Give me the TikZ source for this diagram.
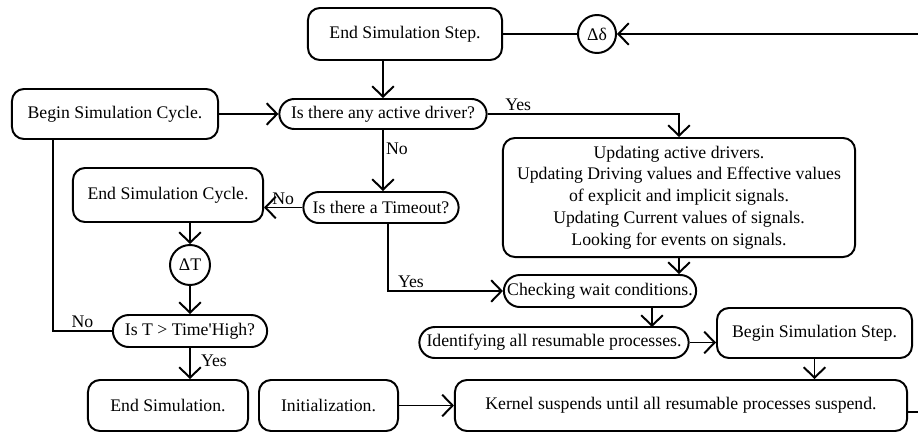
\documentclass[tikz,border=0pt]{standalone}
\usepackage{fontspec}
\setmainfont{Liberation Serif}
\usetikzlibrary{arrows.meta, shapes.misc}

\begin{document}
\begin{tikzpicture}[x=0.025cm, y=-0.025cm, line width=1.4pt,
  font=\fontsize{12.6}{15.5}\selectfont,
  box/.style={draw, rounded corners=0.3cm, inner sep=2pt, align=center},
  pill/.style={draw, rounded rectangle, inner sep=1pt},
  junc/.style={draw, circle, inner sep=0pt, minimum size=0.95cm},
  flow/.style={-{Straight Barb[length=2.6mm, width=5.4mm]}},
  tag/.style={inner sep=1.5pt}]
\useasboundingbox (0,0) rectangle (918,433);
%%%  nodes

% top row
\node [box, minimum width=4.85cm, minimum height=1.3cm] (endstep) at (405,34) {End Simulation Step.};
\node [junc] (ddelta) at (597,34) {Δδ};
\coordinate (loopin) at (918,34);

% cycle start
\node [box, minimum width=5.15cm, minimum height=1.25cm] (begincycle) at (115,114) {Begin Simulation Cycle.};
\node [pill, minimum width=5.25cm, minimum height=0.75cm] (active) at (383,114) {Is there any active driver?};
\node [box, minimum width=8.8cm, minimum height=2.975cm] (update) at (679,197.5) {Updating active drivers.\\ Updating Driving values and Effective values\\ of explicit and implicit signals.\\ Updating Current values of signals.\\ Looking for events on signals.};

% timeout branch
\node [box, minimum width=4.75cm, minimum height=1.35cm] (endcycle) at (168,195) {End Simulation Cycle.};
\node [pill, minimum width=3.95cm, minimum height=0.775cm] (timeout) at (381,207.5) {Is there a Timeout?};
\node [junc, minimum size=1cm] (dT) at (190,265) {ΔT};
\node [pill, minimum width=3.925cm, minimum height=0.8cm] (isT) at (190,331) {Is T > Time\textquotesingle High?};
\coordinate (nocorner) at (53,331);
\coordinate (yescorner) at (388,291);

% wait and resume
\node [pill, minimum width=4.875cm, minimum height=0.8cm] (check) at (600,291) {Checking wait conditions.};
\node [pill, minimum width=6.8cm, minimum height=0.775cm] (ident) at (554,342.5) {Identifying all resumable processes.};
\coordinate (identin) at (652,327);
\node [box, minimum width=4.875cm, minimum height=1.25cm] (beginstep) at (814.5,333) {Begin Simulation Step.};

% bottom row
\node [box, minimum width=4cm, minimum height=1.275cm] (endsim) at (168,405.5) {End Simulation.};
\node [box, minimum width=3.475cm, minimum height=1.275cm] (init) at (328.5,405.5) {Initialization.};
\node [box, minimum width=11.3cm, minimum height=1.275cm] (kernel) at (681,405.5) {Kernel suspends until all resumable processes suspend.};
\coordinate (loopout) at (918,412);

%%% edges

% step loop
\draw (endstep.east) -- (ddelta.west);
\draw [flow] (loopin) -- (ddelta.east);
\draw [flow] (endstep.south -| active.north) -- (active.north);
\draw (kernel.east |- loopout) -- (loopout);

% cycle
\draw [flow] (begincycle.east) -- (active.west);
\draw [flow] (active.east) -| node [tag, above, pos=0.08] {Yes} (update.north);
\draw [flow] (active.south) -- node [tag, right, pos=0.3] {No} (active.south |- timeout.north);
\draw [flow] (timeout.west) -- node [tag, above, pos=0.5] {No} (timeout.west -| endcycle.east);
\draw [flow] (endcycle.south -| dT.north) -- (dT.north);
\draw [flow] (dT.south) -- (isT.north);
\draw (isT.west) -- node [tag, above] {No} (nocorner) -- (nocorner |- begincycle.south);
\draw [flow] (isT.south) -- node [tag, right, xshift=0.2cm, pos=0.4] {Yes} (isT.south |- endsim.north);

% resume
\draw [flow] (timeout.south -| yescorner) -- (yescorner) -- node [tag, above, pos=0.2] {Yes} (check.west);
\draw [flow] (update.south) -- (update.south |- check.north);
\draw [flow] (check.south -| identin) -- (identin);
\draw [flow] (ident.east) -- (ident.east -| beginstep.west);
\draw [flow] (beginstep.south) -- (beginstep.south |- kernel.north);
\draw [flow] (init.east) -- (kernel.west);
\end{tikzpicture}
\end{document}
